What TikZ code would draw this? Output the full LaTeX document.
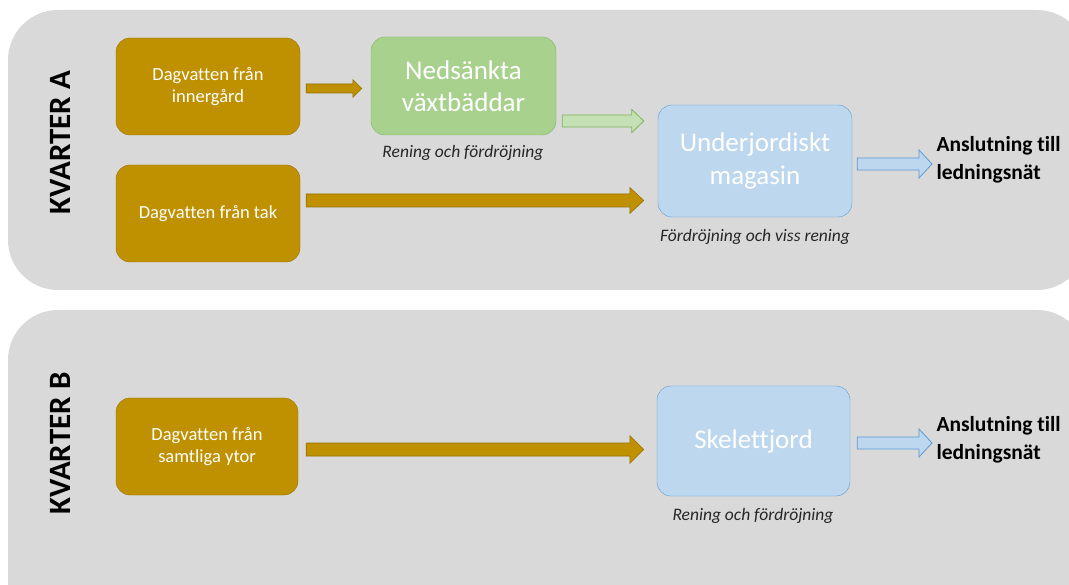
\documentclass[tikz,border=0pt]{standalone}
\usepackage{fontspec}
\setmainfont{Carlito}[Ligatures=NoCommon]
\usetikzlibrary{calc,positioning}
\definecolor{panelgray}{HTML}{D9D9D9}
\definecolor{brownfill}{HTML}{BF9000}
\definecolor{brownline}{HTML}{967100}
\definecolor{greenfill}{HTML}{A9D18E}
\definecolor{greenline}{HTML}{7DB55A}
\definecolor{greenarrow}{HTML}{C5E0B4}
\definecolor{bluefill}{HTML}{BDD7EE}
\definecolor{blueline}{HTML}{5B9BD5}

% block arrow: style, start, end, shaft half, head half, head length
\newcommand{\blockarrow}[6]{%
  \draw[#1] let \p1=(#2), \p2=(#3) in
    (\x1,\y1+#4pt) -- (\x2-#6pt,\y1+#4pt) -- (\x2-#6pt,\y1+#5pt) -- (\x2,\y1)
    -- (\x2-#6pt,\y1-#5pt) -- (\x2-#6pt,\y1-#4pt) -- (\x1,\y1-#4pt) -- cycle;}

\begin{document}
\begin{tikzpicture}[
    x=1pt, y=-1pt,
    panel/.style={fill=panelgray, draw=none, rounded corners=50pt},
    source/.style={rectangle, draw=brownline, fill=brownfill, rounded corners=14pt,
                   text=white, align=center, minimum width=184pt, minimum height=97pt,
                   font=\fontsize{18.5}{22}\selectfont},
    plantbed/.style={rectangle, draw=greenline, fill=greenfill, rounded corners=14pt,
                     text=white, align=center, minimum width=185pt, minimum height=98pt,
                     font=\fontsize{27}{32}\selectfont},
    storage/.style={rectangle, draw=blueline, fill=bluefill, rounded corners=14pt,
                    text=white, align=center, minimum width=194pt, minimum height=112pt,
                    font=\fontsize{27}{33}\selectfont},
    note/.style={font=\fontsize{17.5}{21}\selectfont\itshape, text=black!85},
    outlet/.style={font=\fontsize{21.5}{28}\selectfont\bfseries, align=left, anchor=west},
    quarter/.style={rotate=90, font=\fontsize{31}{36}\selectfont\bfseries},
    brownarr/.style={fill=brownfill, draw=brownline, line width=0.6pt},
    greenarr/.style={fill=greenarrow, draw=greenline, line width=0.8pt},
    bluearr/.style={fill=bluefill, draw=blueline, line width=0.8pt}
]
\useasboundingbox (0,0) rectangle (1069,585);
\clip (0,0) rectangle (1069,585);

% panels
\fill[panel] (8,10) rectangle (1087,290);
\fill[panel] (8,310) rectangle (1087,640);

\node[quarter] (kvA) at (60,142.5) {KVARTER A};
\node[quarter] (kvB) at (60,443.5) {KVARTER B};

% kvarter A
\node[source] (inner) at (208,86.5) {Dagvatten från\\innergård};
\node[source] (roof) at (208,213.5) {Dagvatten från tak};
\node[plantbed] (bed) at (463.5,86) {Nedsänkta\\växtbäddar};
\node[storage] (mag) at (755,161) {Underjordiskt\\magasin};
\node[note] (bednote) at (463,153) {Rening och fördröjning};
\node[note] (magnote) at (755,237) {Fördröjning och viss rening};
\node[outlet] (outA) at (933,160) {Anslutning till\\ledningsnät};

\blockarrow{brownarr}{$(inner.east)+(6,2)$}{$(bed.west)+(-9,0)$}{4.5}{9}{9}
\blockarrow{greenarr}{$(bed.east)+(6,35)$}{$(mag.west)+(-14,0)$}{6}{11.5}{12}
\blockarrow{brownarr}{$(roof.east)+(6,-13)$}{$(mag.west)+(-14,0)$}{6.5}{13}{14}
\blockarrow{bluearr}{$(mag.east)+(5,3)$}{$(outA.west)+(-1,0)$}{6}{14}{13}

% kvarter B
\node[source, minimum width=182pt] (all) at (207,446.5) {Dagvatten från\\samtliga ytor};
\node[storage, minimum width=193pt, minimum height=110pt] (skel) at (753.5,441) {Skelettjord};
\node[note] (skelnote) at (753,516) {Rening och fördröjning};
\node[outlet] (outB) at (933,440) {Anslutning till\\ledningsnät};

\blockarrow{brownarr}{$(all.east)+(8,3)$}{$(skel.west)+(-13,0)$}{6.5}{14}{14}
\blockarrow{bluearr}{$(skel.east)+(7,2)$}{$(outB.west)+(-1,0)$}{6}{14}{13}
\end{tikzpicture}
\end{document}
